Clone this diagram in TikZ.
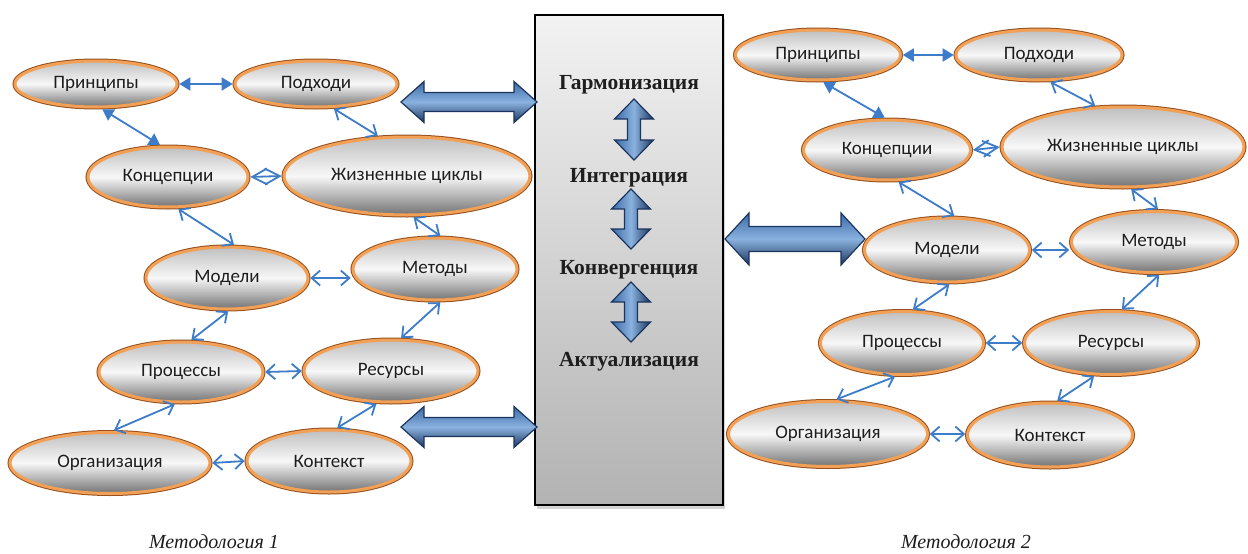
\documentclass[tikz,border=0pt]{standalone}
\usepackage{fontspec}
\setmainfont{Carlito}
\newfontfamily\serifbox{Liberation Serif}
\usetikzlibrary{arrows.meta,shapes.geometric,shadows,calc}
\definecolor{orl}{HTML}{F2A055}
\definecolor{ord}{HTML}{96501E}
\definecolor{lnk}{HTML}{3D7CC9}
\definecolor{bdk}{HTML}{1C355E}
\definecolor{bmd}{HTML}{3B6AA6}
\definecolor{blt}{HTML}{8AB2DF}
\definecolor{txt}{HTML}{1E1E1E}
\tikzset{
  elli/.style n args={2}{ellipse, minimum width=#1pt, minimum height=#2pt, inner sep=0pt, outer sep=2.3pt,
    top color=black!25, bottom color=black!55, middle color=black!3,
    preaction={draw=ord, line width=5pt}, draw=orl, line width=3pt,
    font=\fontsize{19}{21}\selectfont, text=txt},
  lk/.style={draw=lnk, line width=1.8pt},
  open/.style={lk, {Straight Barb[length=8.5pt,width=15pt]}-{Straight Barb[length=8.5pt,width=15pt]}},
  full/.style={lk, {Triangle[length=11pt,width=13pt]}-{Triangle[length=11pt,width=13pt]}},
  diam/.style={lk, {Straight Barb[length=15pt,width=16pt]}-{Straight Barb[length=15pt,width=16pt]}},
  bigh/.style={draw=bdk, line width=1.2pt, top color=bmd, bottom color=bdk, middle color=blt, line join=miter},
  bigv/.style={draw=bdk, line width=1.2pt, left color=bmd, right color=bdk, middle color=blt, line join=miter},
  cbox/.style={rectangle, draw=black, line width=2.5pt, top color=black!5, bottom color=black!30,
    drop shadow={shadow xshift=2pt, shadow yshift=-4pt, opacity=0.35}},
  stage/.style={font=\serifbox\bfseries\fontsize{21.5}{24}\selectfont, text=txt, inner sep=0pt},
  capt/.style={font=\serifbox\itshape\fontsize{20}{22}\selectfont, text=txt, inner sep=0pt, anchor=base},
}
% horizontal double arrow: x1 x2 yc headlen headhalf shafthalf
\newcommand\dblh[6]{%
 \path[bigh] (#1,#3) -- (#1+#4,#3-#5) -- (#1+#4,#3-#6) -- (#2-#4,#3-#6) -- (#2-#4,#3-#5) -- (#2,#3)
   -- (#2-#4,#3+#5) -- (#2-#4,#3+#6) -- (#1+#4,#3+#6) -- (#1+#4,#3+#5) -- cycle;}
% vertical double arrow: xc y1 y2 headlen headhalf shafthalf
\newcommand\dblv[6]{%
 \path[bigv] (#1,#2) -- (#1+#5,#2+#4) -- (#1+#6,#2+#4) -- (#1+#6,#3-#4) -- (#1+#5,#3-#4) -- (#1,#3)
   -- (#1-#5,#3-#4) -- (#1-#6,#3-#4) -- (#1-#6,#2+#4) -- (#1-#5,#2+#4) -- cycle;}
\begin{document}
\begin{tikzpicture}[x=1pt,y=-1pt]
\useasboundingbox (0,0) rectangle (1248,554);
\fill[white] (0,0) rectangle (1248,554);

% central box
\node[cbox, minimum width=188pt, minimum height=490pt] (cb) at (629,260) {};
\node[stage] (s1) at (629,85) {Гармонизация};
\node[stage] (s2) at (629,178) {Интеграция};
\node[stage] (s3) at (629,270) {Конвергенция};
\node[stage] (s4) at (629,362) {Актуализация};
\dblv{634}{99}{160}{20}{19.5}{6.5}
\dblv{631}{189}{249}{20}{19.5}{6.5}
\dblv{631}{282}{342}{20}{19.5}{6.5}

% big arrows
\dblh{401}{537}{102}{23}{20.5}{9.5}
\dblh{401}{537}{427}{23}{20.5}{9.5}
\dblh{725}{865}{239}{24}{26}{12.5}

% left group
\node[elli={162}{46}] (p1) at (96,84) {Принципы};
\node[elli={162}{46}] (h1) at (316,84) {Подходи};
\node[elli={160}{60}] (k1) at (168,177) {Концепции};
\node[elli={246}{78}] (j1) at (407,176) {Жизненные циклы};
\node[elli={162}{62}] (m1) at (227,278) {Модели};
\node[elli={164}{62}] (me1) at (435,269) {Методы};
\node[elli={164}{60}] (pr1) at (181,372) {Процессы};
\node[elli={174}{62}] (r1) at (391,371) {Ресурсы};
\node[elli={200}{61}] (o1) at (110,463) {Организация};
\node[elli={164}{62}] (ko1) at (329,461) {Контекст};

\draw[full] (p1.east) -- (h1.west);
\draw[full] (p1.-76) -- (k1.104);
\draw[open] (h1.-54) -- (j1.126);
\draw[diam] (k1.east) -- (j1.west);
\draw[open] (k1.-72) -- (m1.78);
\draw[open] (j1.-81) -- (me1.81);
\draw[open] (m1.east) -- (me1.west |- m1.east);
\draw[open] (m1.-88) -- (pr1.72);
\draw[open] (me1.-81) -- (r1.73);
\draw[open] (pr1.east) -- (r1.west);
\draw[open] (pr1.-101) -- (o1.83);
\draw[open] (r1.-114) -- (ko1.76);
\draw[open] (o1.east) -- (ko1.west);

% right group
\node[elli={165}{50}] (p2) at (818,55) {Принципы};
\node[elli={166}{50}] (h2) at (1039,55) {Подходи};
\node[elli={167}{60}] (k2) at (887,150) {Концепции};
\node[elli={242}{80}] (j2) at (1123,147) {Жизненные циклы};
\node[elli={165}{64}] (m2) at (947,250) {Модели};
\node[elli={165}{61}] (me2) at (1154,242) {Методы};
\node[elli={163}{63}] (pr2) at (902,343) {Процессы};
\node[elli={173}{63}] (r2) at (1111,343) {Ресурсы};
\node[elli={199}{65}] (o2) at (828,434) {Организация};
\node[elli={165}{64}] (ko2) at (1050,435) {Контекст};

\draw[full] (p2.east) -- (h2.west);
\draw[full] (p2.-79) -- (k2.94);
\draw[open] (h2.-67) -- (j2.124);
\draw[diam] (k2.east) -- (j2.west);
\draw[open] (k2.-70) -- (m2.78);
\draw[open] (j2.-79) -- (me2.83);
\draw[open] (m2.east) -- (me2.west |- m2.east);
\draw[open] (m2.-86) -- (pr2.72);
\draw[open] (me2.-81) -- (r2.72);
\draw[open] (pr2.east) -- (r2.west);
\draw[open] (pr2.-102) -- (o2.76);
\draw[open] (r2.-117) -- (ko2.78);
\draw[open] (o2.east) -- (ko2.west |- o2.east);

% captions
\node[capt] (c1) at (214,548) {Методология 1};
\node[capt] (c2) at (966,548) {Методология 2};
\end{tikzpicture}
\end{document}
